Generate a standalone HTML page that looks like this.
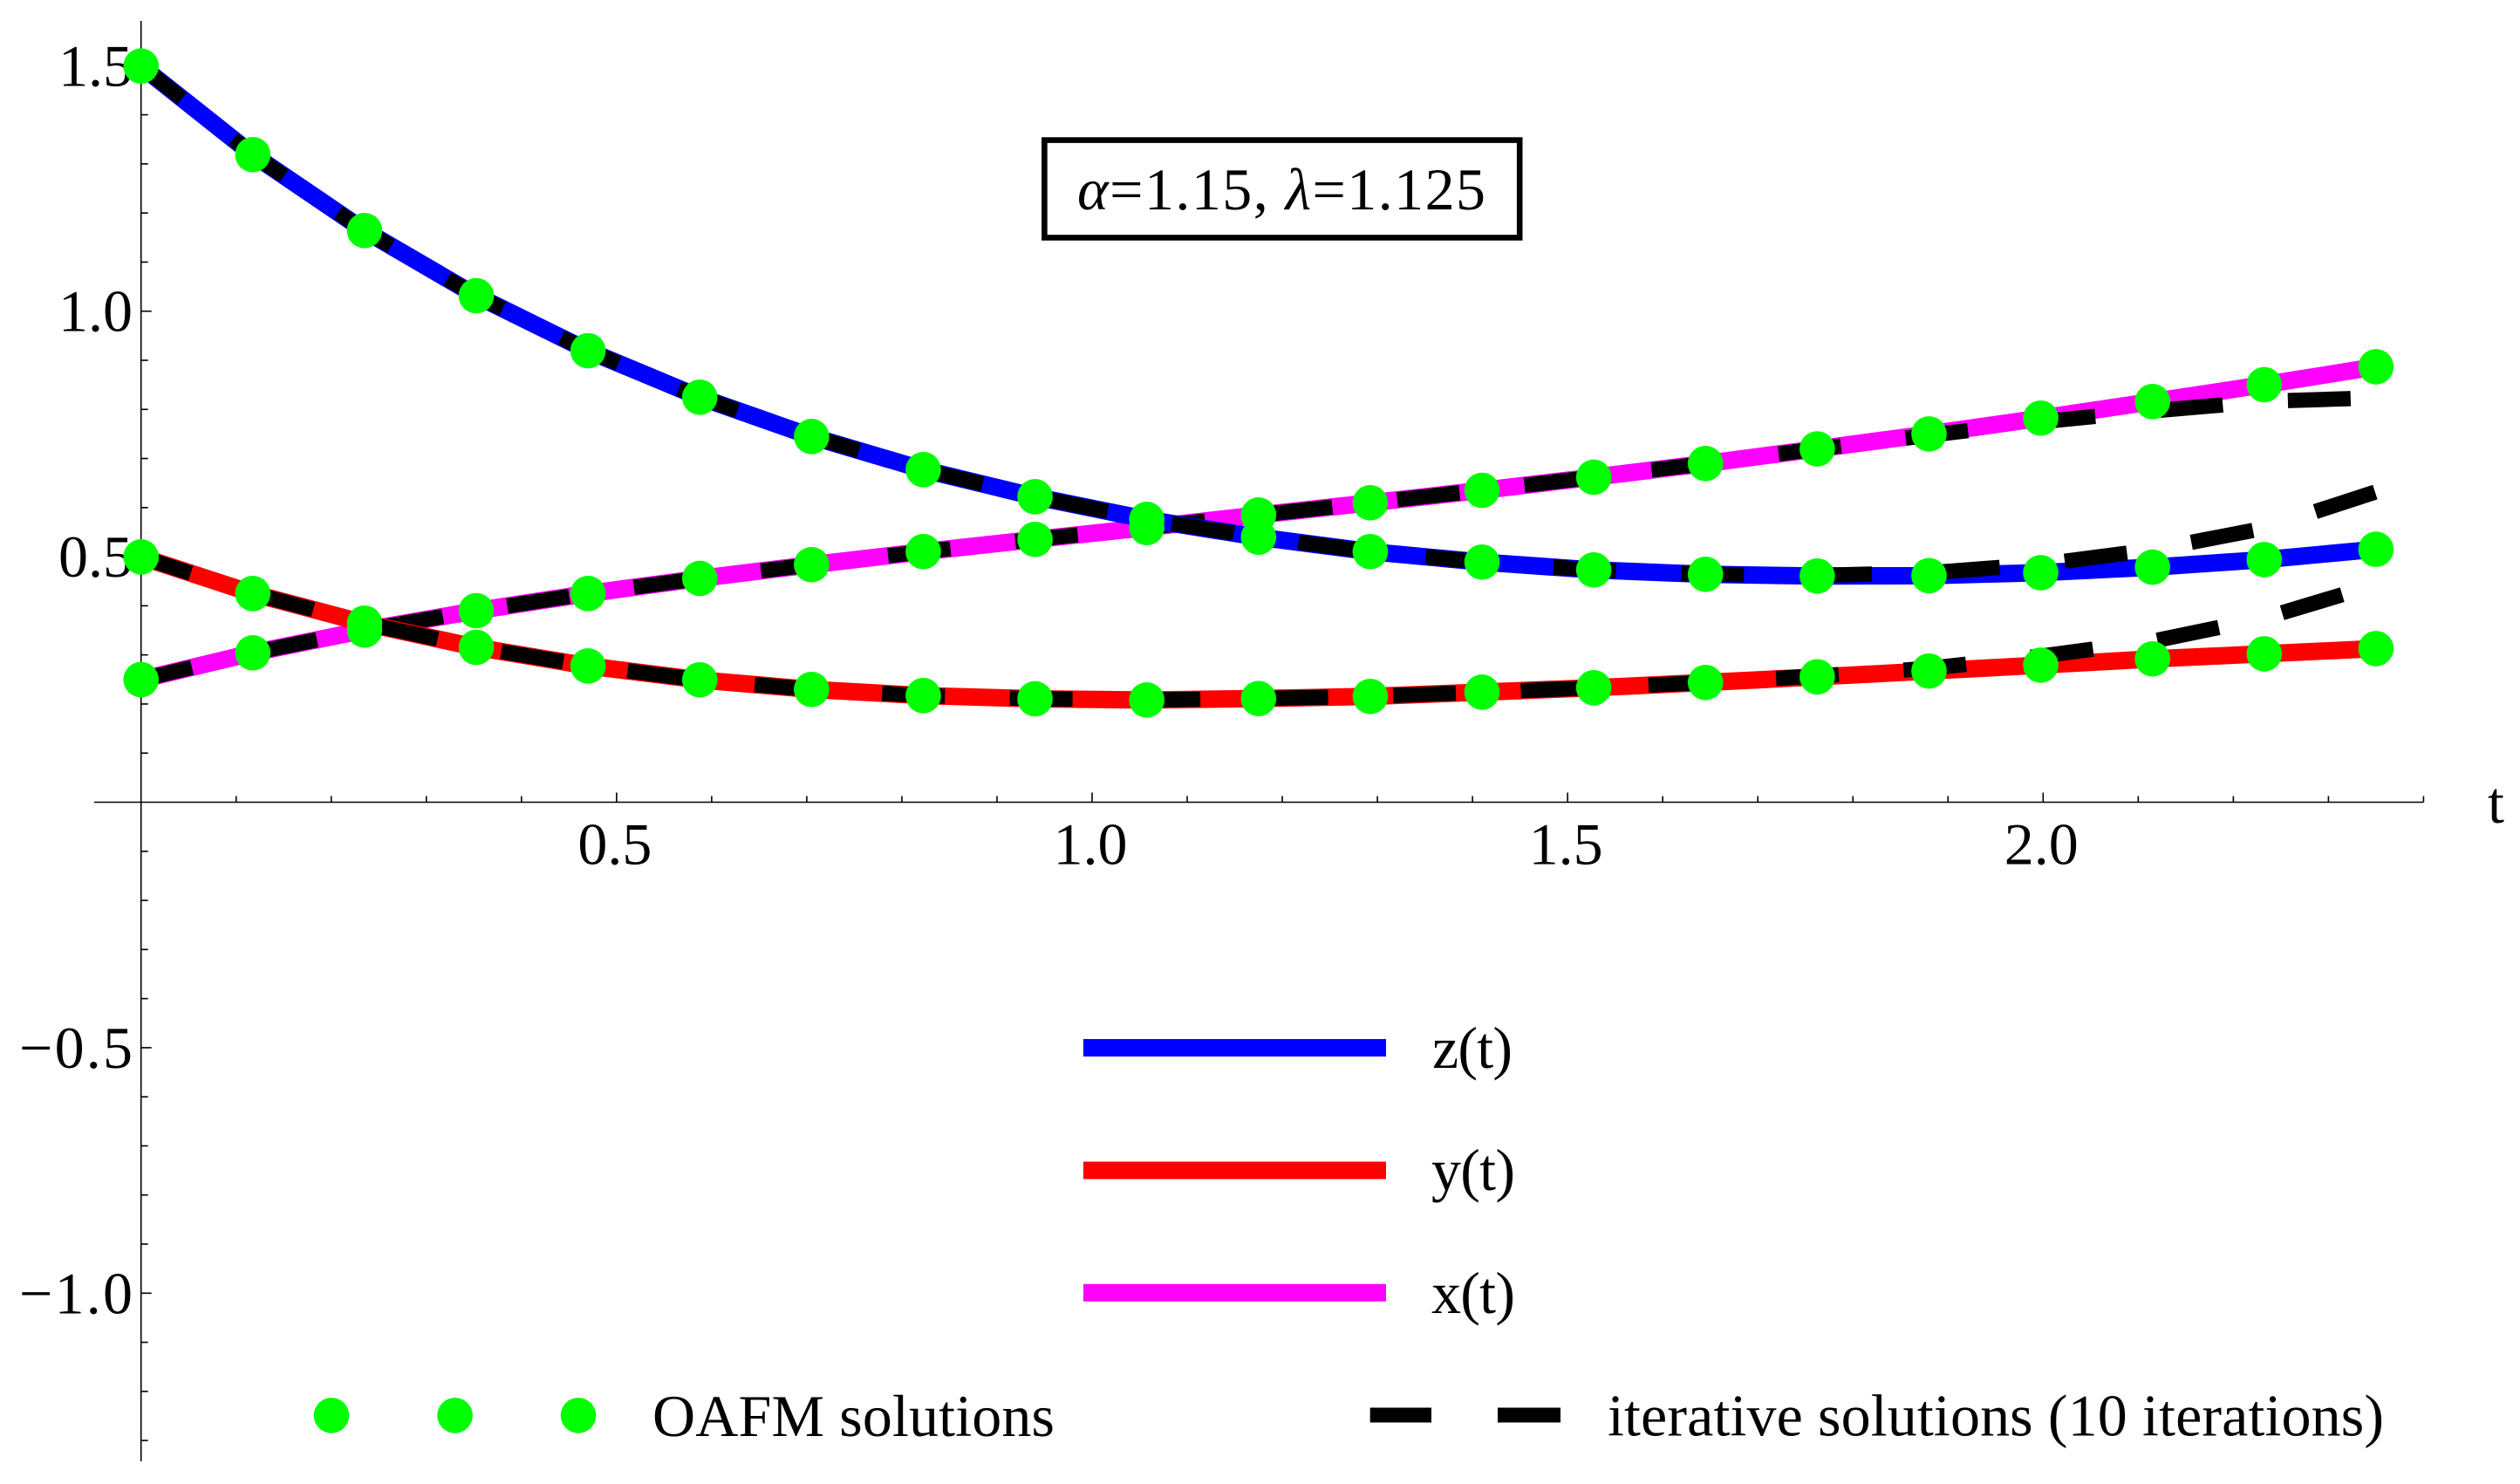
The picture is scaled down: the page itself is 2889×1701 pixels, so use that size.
<!DOCTYPE html>
<html lang="en">
<head>
<meta charset="utf-8">
<title>OAFM and iterative solutions</title>
<style>
html,body{margin:0;padding:0;background:#fff;width:2889px;height:1701px;overflow:hidden}
svg{display:block}
text{font-family:"Liberation Serif","Times New Roman",serif;font-size:68px;fill:#000}
</style>
</head>
<body>
<svg id="chart" xmlns="http://www.w3.org/2000/svg" width="2889" height="1701" viewBox="0 0 2889 1701">
  <rect x="0" y="0" width="2889" height="1701" fill="#fff"/>
  <g id="axes"></g>
  <g id="series"></g>
  <g id="points"></g>

  <g>
    <rect x="1197.4" y="160.6" width="544.8" height="111.8" fill="#fff" stroke="#000" stroke-width="6.6"/>
    <text x="1235" y="240" textLength="468" lengthAdjust="spacing"><tspan font-style="italic">α</tspan>=1.15, <tspan font-style="italic">λ</tspan>=1.125</text>
  </g>

  <g>
    <g>
      <line x1="1242" y1="1201" x2="1589" y2="1201" stroke="#0000ff" stroke-width="20"/>
      <text x="1642" y="1224" textLength="92" lengthAdjust="spacing">z(t)</text>
    </g>
    <g>
      <line x1="1242" y1="1341.5" x2="1589" y2="1341.5" stroke="#ff0000" stroke-width="20"/>
      <text x="1641" y="1364" textLength="96" lengthAdjust="spacing">y(t)</text>
    </g>
    <g>
      <line x1="1242" y1="1481.7" x2="1589" y2="1481.7" stroke="#ff00ff" stroke-width="20"/>
      <text x="1641" y="1505" textLength="96" lengthAdjust="spacing">x(t)</text>
    </g>
    <g>
      <circle cx="380" cy="1622.4" r="20.3" fill="#00ff00"/>
      <circle cx="521.6" cy="1622.4" r="20.3" fill="#00ff00"/>
      <circle cx="663" cy="1622.4" r="20.3" fill="#00ff00"/>
      <text x="748" y="1646" textLength="461" lengthAdjust="spacing">OAFM solutions</text>
    </g>
    <g>
      <line x1="1570.7" y1="1622" x2="1641" y2="1622" stroke="#000" stroke-width="17"/>
      <line x1="1717" y1="1622" x2="1789" y2="1622" stroke="#000" stroke-width="17"/>
      <text x="1843" y="1645.5" textLength="890" lengthAdjust="spacing">iterative solutions (10 iterations)</text>
    </g>
  </g>
</svg>

<script>
// Chart data
const pointCount = 21;
const tStep = 0.1175;
const xTickLabels = ["0.5", "1.0", "1.5", "2.0"];
const xTickValues = [0.5, 1.0, 1.5, 2.0];
const yTickLabels = ["1.5", "1.0", "0.5", "−0.5", "−1.0"];
const yTickValues = [1.5, 1.0, 0.5, -0.5, -1.0];
const zOafm = [1.4993,1.3188,1.1642,1.0315,0.9195,0.8248,0.7448,0.6773,0.6222,0.5760,0.5398,0.5103,0.4890,0.4730,0.4641,0.4606,0.4614,0.4675,0.4787,0.4941,0.5151];
const yOafm = [0.4996,0.4250,0.3646,0.3154,0.2775,0.2491,0.2296,0.2171,0.2106,0.2082,0.2111,0.2154,0.2242,0.2331,0.2438,0.2553,0.2671,0.2791,0.2918,0.3022,0.3129];
const xOafm = [0.2496,0.3042,0.3504,0.3900,0.4250,0.4558,0.4837,0.5103,0.5352,0.5593,0.5849,0.6098,0.6352,0.6619,0.6898,0.7196,0.7500,0.7822,0.8159,0.8504,0.8868];
const zIter = [1.4993,1.3188,1.1642,1.0315,0.9195,0.8248,0.7448,0.6773,0.6222,0.5760,0.5398,0.5103,0.4890,0.4730,0.4641,0.4620,0.4673,0.4845,0.5140,0.5579,0.6322];
const yIter = [0.4996,0.4250,0.3646,0.3154,0.2775,0.2491,0.2296,0.2171,0.2106,0.2082,0.2111,0.2154,0.2242,0.2331,0.2438,0.2568,0.2727,0.2976,0.3278,0.3749,0.4433];
const xIter = [0.2496,0.3042,0.3504,0.3900,0.4250,0.4558,0.4837,0.5103,0.5352,0.5593,0.5849,0.6098,0.6352,0.6619,0.6898,0.7196,0.7472,0.7749,0.7969,0.8164,0.8236];

const SVGNS = "http://www.w3.org/2000/svg";
function sx(t) { return 161.7 + 1090.3 * t; }
function sy(v) { return 919.5 - 562.8 * v; }
function svgEl(tag, parent) {
  const el = document.createElementNS(SVGNS, tag);
  parent.appendChild(el);
  return el;
}
function setLine(el, x1, y1, x2, y2) {
  el.setAttribute("x1", x1);
  el.setAttribute("y1", y1);
  el.setAttribute("x2", x2);
  el.setAttribute("y2", y2);
  el.setAttribute("stroke", "#000");
  el.setAttribute("stroke-width", "1.6");
}

const axes = document.getElementById("axes");

const xAxis = svgEl("line", axes);


setLine(xAxis, 108, sy(0), sx(2.4), sy(0));

const yAxis = svgEl("line", axes);


setLine(yAxis, sx(0), 24, sx(0), 1675);

for (let i = 1; i <= 24; i++) {
  const major = i % 5 === 0;
  const tick = svgEl("line", axes);
  
  
  setLine(tick, sx(i / 10), sy(0), sx(i / 10), sy(0) - (major ? 11 : 7));
}
for (let i = -13; i <= 15; i++) {
  if (i === 0) continue;
  const major = i % 5 === 0;
  const tick = svgEl("line", axes);
  
  
  setLine(tick, sx(0), sy(i / 10), sx(0) + (major ? 12 : 8), sy(i / 10));
}

xTickValues.forEach(function (value, i) {
  const label = svgEl("text", axes);
  
  
  label.setAttribute("x", sx(value) - 2);
  label.setAttribute("y", 990.7);
  label.setAttribute("text-anchor", "middle");
  label.textContent = xTickLabels[i];
});
yTickValues.forEach(function (value, i) {
  const label = svgEl("text", axes);
  
  
  label.setAttribute("x", 152);
  label.setAttribute("y", sy(value) + 23);
  label.setAttribute("text-anchor", "end");
  if (value < 0) label.setAttribute("textLength", "130");
  label.textContent = yTickLabels[i];
});

const xTitle = svgEl("text", axes);


xTitle.setAttribute("x", 2852);
xTitle.setAttribute("y", 943);
xTitle.textContent = "t";

function pathFrom(values) {
  return values.map(function (v, i) {
    return (i ? "L" : "M") + sx(i * tStep).toFixed(2) + " " + sy(v).toFixed(2);
  }).join(" ");
}

const seriesLayer = document.getElementById("series");

const xLine = svgEl("path", seriesLayer);


xLine.setAttribute("d", pathFrom(xOafm));
xLine.setAttribute("fill", "none");
xLine.setAttribute("stroke", "#ff00ff");
xLine.setAttribute("stroke-width", "20");

const xDash = svgEl("path", seriesLayer);


xDash.setAttribute("d", pathFrom(xIter));
xDash.setAttribute("fill", "none");
xDash.setAttribute("stroke", "#000");
xDash.setAttribute("stroke-width", "17.5");
xDash.setAttribute("stroke-dasharray", "72 74.8");
xDash.setAttribute("stroke-dashoffset", "12");

const yLine = svgEl("path", seriesLayer);


yLine.setAttribute("d", pathFrom(yOafm));
yLine.setAttribute("fill", "none");
yLine.setAttribute("stroke", "#ff0000");
yLine.setAttribute("stroke-width", "20");

const yDash = svgEl("path", seriesLayer);


yDash.setAttribute("d", pathFrom(yIter));
yDash.setAttribute("fill", "none");
yDash.setAttribute("stroke", "#000");
yDash.setAttribute("stroke-width", "17.5");
yDash.setAttribute("stroke-dasharray", "72 74.5");
yDash.setAttribute("stroke-dashoffset", "12");

const zLine = svgEl("path", seriesLayer);


zLine.setAttribute("d", pathFrom(zOafm));
zLine.setAttribute("fill", "none");
zLine.setAttribute("stroke", "#0000ff");
zLine.setAttribute("stroke-width", "20");

const zDash = svgEl("path", seriesLayer);


zDash.setAttribute("d", pathFrom(zIter));
zDash.setAttribute("fill", "none");
zDash.setAttribute("stroke", "#000");
zDash.setAttribute("stroke-width", "17.5");
zDash.setAttribute("stroke-dasharray", "72 74.8");
zDash.setAttribute("stroke-dashoffset", "12");

const pointsLayer = document.getElementById("points");
[xOafm, yOafm, zOafm].forEach(function (values) {
  for (let i = 0; i < pointCount; i++) {
    const dot = svgEl("circle", pointsLayer);
    
    
    dot.setAttribute("cx", sx(i * tStep));
    dot.setAttribute("cy", sy(values[i]));
    dot.setAttribute("r", "20.3");
    dot.setAttribute("fill", "#00ff00");
  }
});
</script>
</body>
</html>
